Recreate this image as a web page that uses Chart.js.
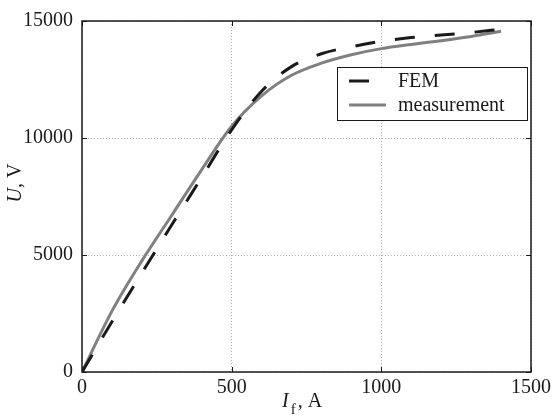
<!DOCTYPE html>
<html>
<head>
<meta charset="utf-8">
<script src="https://cdn.jsdelivr.net/npm/chart.js@4"></script>
<style>
  html, body { margin: 0; padding: 0; background: #fff; }
  #wrap { width: 555px; height: 416px; position: relative; }
</style>
</head>
<body>
<div id="wrap"><canvas id="chart"></canvas></div>
<script>
// Field current, A
const current = [0, 100, 200, 300, 400, 500, 600, 700, 800, 900, 1000, 1100, 1200, 1300, 1400];
// Terminal voltage, V
const uFem = [0, 2150, 4230, 6290, 8320, 10350, 12000, 13050, 13600, 13900, 14130, 14290, 14400, 14510, 14650];
const uMeasured = [0, 2600, 4750, 6700, 8650, 10500, 11800, 12680, 13200, 13560, 13820, 14000, 14160, 14340, 14560];

const xTicks = [0, 500, 1000, 1500];
const yTicks = [0, 5000, 10000, 15000];

const FONT = '"Liberation Serif", "DejaVu Serif", serif';

// frame, inward ticks, legend and axis titles
const decorations = {
    id: 'decorations',
    afterDraw(chart) {
        const { ctx, chartArea: a, scales } = chart;
        ctx.save();

        // box round the plot
        ctx.strokeStyle = '#1a1a1a';
        ctx.lineWidth = 1.5;
        ctx.strokeRect(a.left, a.top, a.right - a.left, a.bottom - a.top);

        // inward ticks on all four sides
        ctx.lineWidth = 1;
        ctx.beginPath();
        xTicks.forEach(v => {
            const px = Math.round(scales.x.getPixelForValue(v)) + 0.5;
            ctx.moveTo(px, a.bottom); ctx.lineTo(px, a.bottom - 5);
            ctx.moveTo(px, a.top); ctx.lineTo(px, a.top + 5);
        });
        yTicks.forEach(v => {
            const py = Math.round(scales.y.getPixelForValue(v)) + 0.5;
            ctx.moveTo(a.left, py); ctx.lineTo(a.left + 5, py);
            ctx.moveTo(a.right, py); ctx.lineTo(a.right - 5, py);
        });
        ctx.stroke();

        // legend
        const bx = a.right - 194, by = a.top + 46, bw = 190, bh = 53;
        ctx.fillStyle = '#fff';
        ctx.fillRect(bx, by, bw, bh);
        ctx.strokeStyle = '#1a1a1a';
        ctx.lineWidth = 1;
        ctx.strokeRect(bx + 0.5, by + 0.5, bw, bh);
        ctx.font = '20px ' + FONT;
        ctx.textBaseline = 'middle';
        chart.data.datasets.forEach((ds, i) => {
            const y = by + 14 + i * 24;
            ctx.save();
            ctx.strokeStyle = ds.borderColor;
            ctx.lineWidth = ds.borderWidth;
            ctx.setLineDash(ds.borderDash || []);
            ctx.beginPath();
            ctx.moveTo(bx + 12, y);
            ctx.lineTo(bx + 49, y);
            ctx.stroke();
            ctx.restore();
            ctx.fillStyle = '#1a1a1a';
            ctx.fillText(ds.label, bx + 61, y + 1);
        });

        // x axis title: I_f , A
        ctx.fillStyle = '#1a1a1a';
        ctx.textBaseline = 'alphabetic';
        ctx.textAlign = 'left';
        let tx = 282;
        const base = 407;
        ctx.font = 'italic 20px ' + FONT;
        ctx.fillText('I', tx, base);
        tx += ctx.measureText('I').width + 2;
        ctx.font = '15px ' + FONT;
        ctx.fillText('f', tx, base + 7);
        tx += ctx.measureText('f').width + 2;
        ctx.font = '20px ' + FONT;
        ctx.fillText(', A', tx, base);

        // y axis title: U, V
        ctx.save();
        ctx.translate(21, 183);
        ctx.rotate(-Math.PI / 2);
        ctx.font = 'italic 20px ' + FONT;
        const wU = ctx.measureText('U').width;
        ctx.font = '20px ' + FONT;
        const wR = ctx.measureText(', V').width;
        let sx = -(wU + wR) / 2;
        ctx.font = 'italic 20px ' + FONT;
        ctx.fillText('U', sx, 0);
        ctx.font = '20px ' + FONT;
        ctx.fillText(', V', sx + wU, 0);
        ctx.restore();

        ctx.restore();
    }
};

new Chart(document.getElementById('chart'), {
    type: 'line',
    data: {
        datasets: [
            {
                label: 'FEM',
                data: current.map((x, i) => ({ x, y: uFem[i] })),
                borderColor: '#1a1a1a',
                borderWidth: 3,
                borderDash: [20, 20],
                pointRadius: 0,
                cubicInterpolationMode: 'monotone',
                fill: false
            },
            {
                label: 'measurement',
                data: current.map((x, i) => ({ x, y: uMeasured[i] })),
                borderColor: '#808080',
                borderWidth: 3,
                pointRadius: 0,
                cubicInterpolationMode: 'monotone',
                fill: false
            }
        ]
    },
    options: {
        responsive: true,
        maintainAspectRatio: false,
        animation: false,
        layout: { padding: { top: 18, right: 23, left: 0, bottom: 0 } },
        plugins: {
            legend: { display: false },
            tooltip: { enabled: false }
        },
        scales: {
            x: {
                type: 'linear',
                min: 0,
                max: 1500,
                afterBuildTicks: s => { s.ticks = xTicks.map(v => ({ value: v })); },
                afterFit: s => { s.height = 44; },
                grid: { color: '#b0b0b0', lineWidth: 1, drawTicks: false },
                border: { display: false, dash: [1, 2] },
                ticks: {
                    padding: 4,
                    color: '#1a1a1a',
                    font: { family: FONT, size: 20 },
                    callback: v => String(v)
                }
            },
            y: {
                min: 0,
                max: 15000,
                afterBuildTicks: s => { s.ticks = yTicks.map(v => ({ value: v })); },
                afterFit: s => { s.width = 82; },
                grid: { color: '#b0b0b0', lineWidth: 1, drawTicks: false },
                border: { display: false, dash: [1, 2] },
                ticks: {
                    padding: 9,
                    color: '#1a1a1a',
                    font: { family: FONT, size: 20 },
                    callback: v => String(v)
                }
            }
        }
    },
    plugins: [decorations]
});
</script>
</body>
</html>
